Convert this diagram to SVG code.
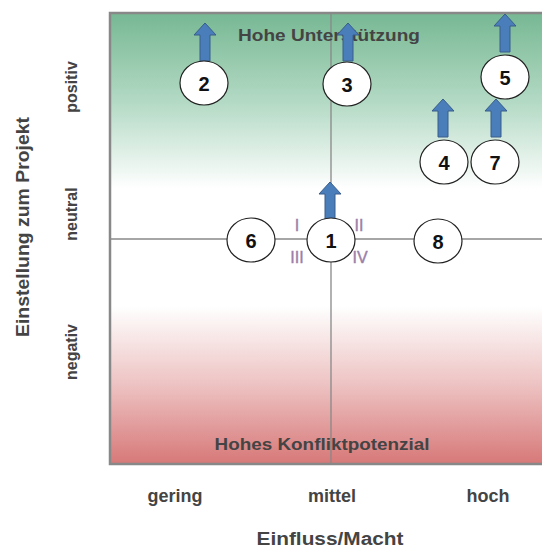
<svg xmlns="http://www.w3.org/2000/svg" width="542" height="549" viewBox="0 0 542 549">
<defs>
<linearGradient id="bg" x1="0" y1="0" x2="0" y2="1">
<stop offset="0" stop-color="#77b893"/>
<stop offset="0.2" stop-color="#b4dac5"/>
<stop offset="0.39" stop-color="#ffffff"/>
<stop offset="0.65" stop-color="#ffffff"/>
<stop offset="0.82" stop-color="#eec4c4"/>
<stop offset="1" stop-color="#d77878"/>
</linearGradient>
<path id="arr" d="M-5,0 V-26 H-11 L0,-38 L11,-26 H5 V0 Z"/>
<style>
.t{font-family:"Liberation Sans",Arial,sans-serif;font-weight:bold;fill:#444}
.n{font-family:"Liberation Sans",Arial,sans-serif;font-weight:bold;font-size:20px;fill:#111;text-anchor:middle}
.c{fill:#fff;stroke:#222;stroke-width:1.2}
.a{fill:#4a7ebb;stroke:#385d8a;stroke-width:1}
.r{font-family:"Liberation Sans",Arial,sans-serif;font-size:16px;fill:#9b7fa8;stroke:#9b7fa8;stroke-width:0.4;text-anchor:middle}
.ax{stroke:#888;stroke-width:1.3;fill:none}
</style>
</defs>
<rect x="110" y="13" width="440" height="451" fill="url(#bg)" stroke="#888" stroke-width="2.5"/>
<g id="connectors">
<line class="ax" x1="331" y1="13" x2="331" y2="464"/>
<line class="ax" x1="110" y1="239" x2="545" y2="239"/>
</g>
<text class="t" x="329" y="41" font-size="17" text-anchor="middle" textLength="182" lengthAdjust="spacingAndGlyphs">Hohe Unterstützung</text>
<text class="t" x="322" y="450" font-size="17" text-anchor="middle" textLength="215" lengthAdjust="spacingAndGlyphs">Hohes Konfliktpotenzial</text>
<text class="r" x="297" y="231">I</text>
<text class="r" x="359" y="231">II</text>
<text class="r" x="297" y="263">III</text>
<text class="r" x="360" y="263">IV</text>
<g id="n2"><use href="#arr" class="a" x="205" y="61"/><ellipse class="c" cx="204" cy="83" rx="24" ry="22"/><text class="n" x="204" y="91">2</text></g>
<g id="n3"><use href="#arr" class="a" x="348" y="61"/><ellipse class="c" cx="347" cy="84" rx="24" ry="22"/><text class="n" x="347" y="92">3</text></g>
<g id="n5"><use href="#arr" class="a" x="505" y="52"/><ellipse class="c" cx="505" cy="77" rx="24" ry="22"/><text class="n" x="505" y="85">5</text></g>
<g id="n4"><use href="#arr" class="a" x="443" y="137"/><ellipse class="c" cx="444" cy="162" rx="24" ry="22"/><text class="n" x="444" y="170">4</text></g>
<g id="n7"><use href="#arr" class="a" x="496" y="137"/><ellipse class="c" cx="495" cy="162" rx="24" ry="22"/><text class="n" x="495" y="170">7</text></g>
<g id="n1"><use href="#arr" class="a" x="330" y="220"/><ellipse class="c" cx="331" cy="240" rx="24" ry="22"/><text class="n" x="331" y="248">1</text></g>
<g id="n6"><ellipse class="c" cx="251" cy="240" rx="24" ry="22"/><text class="n" x="251" y="248">6</text></g>
<g id="n8"><ellipse class="c" cx="438" cy="241" rx="24" ry="22"/><text class="n" x="438" y="249">8</text></g>
<text class="t" x="175" y="502" font-size="18" text-anchor="middle">gering</text>
<text class="t" x="332" y="502" font-size="18" text-anchor="middle">mittel</text>
<text class="t" x="488" y="502" font-size="18" text-anchor="middle">hoch</text>
<text class="t" x="330" y="545" font-size="18" text-anchor="middle" textLength="147" lengthAdjust="spacingAndGlyphs">Einfluss/Macht</text>
<text class="t" transform="translate(29,227) rotate(-90)" font-size="18" text-anchor="middle" textLength="220" lengthAdjust="spacingAndGlyphs">Einstellung zum Projekt</text>
<text class="t" transform="translate(77,87) rotate(-90)" font-size="16" text-anchor="middle">positiv</text>
<text class="t" transform="translate(77,214) rotate(-90)" font-size="16" text-anchor="middle">neutral</text>
<text class="t" transform="translate(77,352) rotate(-90)" font-size="16" text-anchor="middle">negativ</text>
</svg>
